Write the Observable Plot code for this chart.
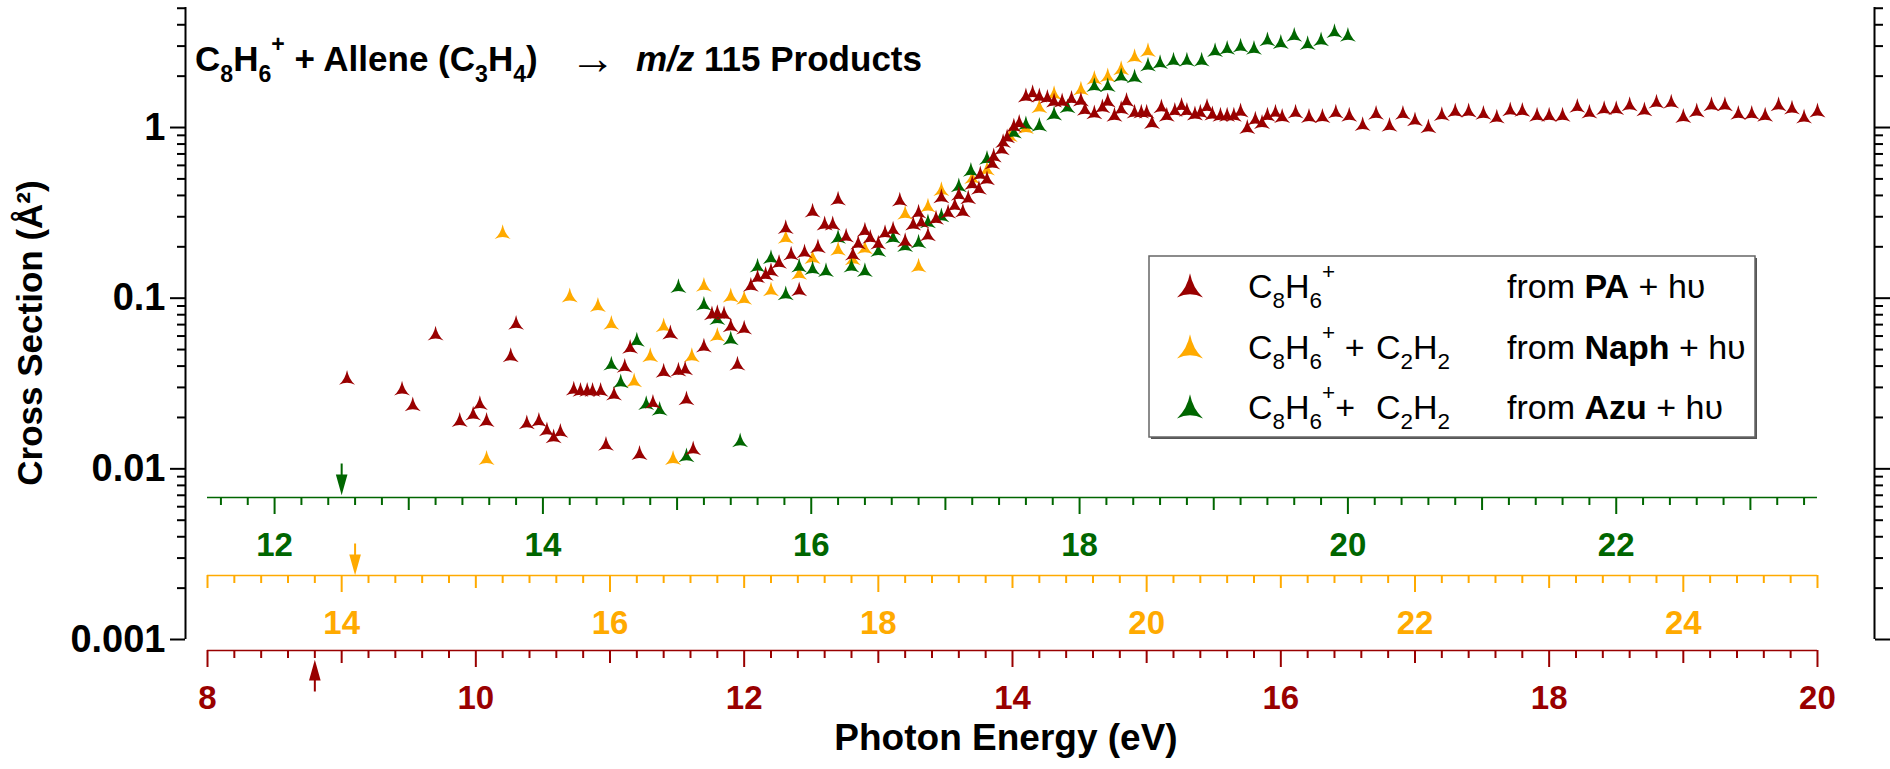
<!DOCTYPE html>
<html><head><meta charset="utf-8">
<script src="https://cdn.jsdelivr.net/npm/d3@7"></script>
<script src="https://cdn.jsdelivr.net/npm/@observablehq/plot@0.6"></script>
<style>
body{margin:0;background:#fff}
#chart{position:relative;width:1890px;height:769px}
text{white-space:pre}
</style>
</head><body><div id="chart"></div>
<script>
// ---------- DATA ----------
// C8H6+ from PA + hv  (photon energy on the red / PA axis, eV ; cross section Å²)
const paE = [9.04,9.45,9.53,9.70,9.88,9.98,10.03,10.08,10.26,10.30,10.38,10.47,10.53,10.58,10.63,10.73,10.78,10.83,10.87,10.93,10.97,11.03,11.11,11.15,11.22,11.32,11.40,11.45,11.51,11.56,11.57,11.62,11.70,11.76,11.80,11.85,11.90,11.95,12.00,12.05,12.10,12.16,12.20,12.26,12.31,12.35,12.41,12.45,12.51,12.55,12.60,12.66,12.70,12.76,12.81,12.85,12.90,12.94,13.00,13.05,13.11,13.16,13.20,13.26,13.30,13.32,13.37,13.43,13.47,13.52,13.57,13.60,13.63,13.67,13.70,13.75,13.76,13.81,13.85,13.86,13.92,13.93,13.96,14.01,14.05,14.10,14.15,14.20,14.26,14.31,14.37,14.44,14.51,14.54,14.61,14.67,14.71,14.76,14.81,14.85,14.91,14.96,15.00,15.04,15.11,15.15,15.21,15.26,15.30,15.36,15.40,15.45,15.49,15.55,15.60,15.65,15.70,15.75,15.81,15.86,15.90,15.96,16.01,16.11,16.21,16.31,16.41,16.51,16.61,16.71,16.81,16.91,17.00,17.10,17.20,17.30,17.40,17.51,17.61,17.71,17.80,17.91,18.00,18.10,18.21,18.30,18.41,18.50,18.60,18.71,18.80,18.91,19.00,19.10,19.21,19.31,19.41,19.51,19.61,19.71,19.81,19.90,20.00];
const paCS = [0.0339,0.0293,0.0237,0.0615,0.0192,0.0209,0.0241,0.0192,0.046,0.0711,0.0186,0.0192,0.0169,0.0154,0.0166,0.0293,0.0288,0.0288,0.0288,0.0288,0.0139,0.0274,0.0398,0.0515,0.0123,0.0245,0.0373,0.0625,0.0379,0.0385,0.0257,0.0131,0.0523,0.0809,0.0822,0.0809,0.0689,0.0411,0.0667,0.119,0.133,0.138,0.145,0.162,0.259,0.181,0.112,0.187,0.324,0.200,0.272,0.272,0.381,0.231,0.181,0.210,0.250,0.227,0.210,0.242,0.254,0.375,0.217,0.272,0.319,0.280,0.235,0.294,0.393,0.319,0.351,0.406,0.324,0.387,0.470,0.440,0.534,0.501,0.618,0.681,0.750,0.826,0.882,1.02,1.07,1.53,1.60,1.53,1.50,1.43,1.43,1.48,1.45,1.28,1.22,1.32,1.43,1.18,1.29,1.44,1.23,1.23,1.23,1.07,1.32,1.18,1.26,1.35,1.26,1.20,1.23,1.33,1.20,1.18,1.18,1.18,1.25,1.00,1.12,1.07,1.18,1.23,1.16,1.23,1.16,1.16,1.23,1.18,1.04,1.21,1.03,1.21,1.11,1.01,1.19,1.25,1.25,1.21,1.15,1.27,1.26,1.18,1.18,1.18,1.33,1.23,1.29,1.29,1.36,1.27,1.41,1.41,1.16,1.25,1.36,1.36,1.21,1.21,1.18,1.36,1.30,1.15,1.25];

// C8H6+ + C2H2 from Naph + hv  (energy on the orange / Naph axis)
const naphE = [15.08,15.20,15.70,15.91,16.01,16.18,16.30,16.40,16.47,16.61,16.70,16.80,16.90,17.00,17.20,17.31,17.41,17.51,17.70,17.81,17.90,18.20,18.30,18.37,18.47,18.70,18.81,18.98,19.10,19.20,19.31,19.51,19.61,19.71,19.81,19.91,20.01];
const naphCS = [0.0115,0.242,0.103,0.0906,0.0711,0.0328,0.046,0.0689,0.0115,0.046,0.119,0.0605,0.103,0.0998,0.112,0.227,0.140,0.173,0.193,0.170,0.197,0.314,0.154,0.346,0.433,0.509,0.570,0.896,1.00,1.32,1.58,1.68,1.94,2.01,2.21,2.60,2.82];

// C8H6+ + C2H2 from Azu + hv  (energy on the green / Azu axis)
const azuE = [14.51,14.58,14.70,14.77,14.87,15.01,15.07,15.20,15.30,15.40,15.47,15.60,15.70,15.81,15.91,16.01,16.11,16.20,16.30,16.40,16.50,16.61,16.70,16.80,16.87,16.97,17.10,17.19,17.31,17.51,17.60,17.70,17.81,17.91,18.11,18.21,18.31,18.41,18.51,18.60,18.70,18.80,18.91,19.01,19.10,19.20,19.30,19.40,19.50,19.60,19.70,19.80,19.90,20.00];
const azuCS = [0.0411,0.0323,0.0567,0.0241,0.0223,0.117,0.0119,0.0921,0.0759,0.0577,0.0146,0.154,0.173,0.106,0.154,0.149,0.145,0.227,0.154,0.145,0.190,0.227,0.203,0.213,0.280,0.304,0.455,0.561,0.659,0.940,1.05,1.03,1.20,1.32,1.76,1.76,2.01,1.98,2.32,2.40,2.48,2.48,2.48,2.82,2.91,3.00,2.91,3.26,3.15,3.47,3.10,3.26,3.65,3.47];

// energy-axis offsets relative to the PA axis, axis spans and arrow markers
const naphOffset = 5.0, azuOffset = 3.5;
const paRange = [8, 20], naphRange = [13, 25], azuRange = [11.5, 23.5];
const paMajor = [8,10,12,14,16,18,20];
const naphMajor = [14,16,18,20,22,24];
const azuMajor = [12,14,16,18,20,22];
const arrowE = {pa: 8.8, naph: 14.1, azu: 12.5};
const yMajor = [0.001, 0.01, 0.1, 1];
const yLabels = ["0.001", "0.01", "0.1", "1"];

// ---------- STYLE ----------
const RED = "#990000", ORANGE = "#ffaa00", GREEN = "#006600";
const W = 1890, H = 769;
const xDomain = [7.836, 20.425], yDomain = [0.001, 5.05];
const yMinor = [];
for (const d of [0.001, 0.01, 0.1, 1]) for (let m = 2; m <= 9; m++) if (m * d <= yDomain[1]) yMinor.push(m * d);

const arrowhead = {
  draw(ctx, size) {
    const r = Math.sqrt(size / Math.PI);
    ctx.moveTo(0, -1.05 * r);
    ctx.quadraticCurveTo(-0.22 * r, 0.1 * r, -r, 0.8 * r);
    ctx.quadraticCurveTo(0, 0.3 * r, r, 0.8 * r);
    ctx.quadraticCurveTo(0.22 * r, 0.1 * r, 0, -1.05 * r);
    ctx.closePath();
  }
};
const arrowDown = {draw(ctx) {ctx.moveTo(0, -14); ctx.lineTo(0, 0); ctx.moveTo(-4.5, -2); ctx.lineTo(0, 14); ctx.lineTo(4.5, -2); ctx.closePath();}};
const arrowUp = {draw(ctx) {ctx.moveTo(0, 14); ctx.lineTo(0, 0); ctx.moveTo(-4.5, 2); ctx.lineTo(0, -14); ctx.lineTo(4.5, 2); ctx.closePath();}};

function energyAxis(color, off, range, major, dy) {
  const all = d3.range(Math.ceil(range[0] * 5 - 1e-9), Math.floor(range[1] * 5 + 1e-9) + 1).map(i => i / 5);
  const isInt = v => Math.abs(v - Math.round(v)) < 1e-6;
  const minor = all.filter(v => !isInt(v));
  const odd = all.filter(v => isInt(v) && Math.round(v) % 2 !== 0);
  const even = all.filter(v => isInt(v) && Math.round(v) % 2 === 0);
  const sh = a => a.map(v => v - off);
  const tick = (vals, size) => Plot.axisX(sh(vals), {anchor: "bottom", tickSize: size, dy, stroke: color, strokeWidth: 2, fill: "none", label: null});
  return [
    Plot.ruleY([yDomain[0]], {x1: () => range[0] - off, x2: () => range[1] - off, dy, stroke: color, strokeWidth: 1.5}),
    tick(minor, 8), tick(odd, 13), tick(even, 17),
    Plot.axisX(sh(major), {anchor: "bottom", tickSize: 0, tickPadding: 35, dy, fill: color, fontSize: 33, fontWeight: "bold",
      tickFormat: d => String(Math.round((d + off) * 10) / 10), label: null})
  ];
}

const chart = Plot.plot({
  width: W, height: H,
  marginLeft: 185, marginRight: 16, marginTop: 7, marginBottom: 130,
  style: {fontFamily: "'Liberation Sans', Arial, sans-serif", background: "white", overflow: "visible"},
  x: {type: "linear", domain: xDomain},
  y: {type: "log", domain: yDomain},
  marks: [
    // y axes (left labelled, right mirrored)
    Plot.ruleX([xDomain[0]], {stroke: "black", strokeWidth: 2}),
    Plot.axisY(yMajor, {anchor: "left", tickSize: 15, strokeWidth: 2, fill: "none", label: null}),
    Plot.axisY(yMinor, {anchor: "left", tickSize: 8, strokeWidth: 2, fill: "none", label: null}),
    Plot.axisY(yMajor, {anchor: "left", tickSize: 0, tickPadding: 20, fontSize: 38, fontWeight: "bold", fill: "black",
      tickFormat: d => yLabels[yMajor.indexOf(d)], label: null}),
    Plot.ruleX([xDomain[1]], {stroke: "black", strokeWidth: 2}),
    Plot.axisY(yMajor, {anchor: "right", tickSize: 15, strokeWidth: 2, fill: "none", label: null}),
    Plot.axisY(yMinor, {anchor: "right", tickSize: 8, strokeWidth: 2, fill: "none", label: null}),
    // three energy axes
    ...energyAxis(GREEN, azuOffset, azuRange, azuMajor, -142),
    ...energyAxis(ORANGE, naphOffset, naphRange, naphMajor, -64),
    ...energyAxis(RED, 0, paRange, paMajor, 11),
    // onset arrows
    Plot.dot([arrowE.azu], {x: d => d - azuOffset, y: () => yDomain[0], symbol: arrowDown, r: 5, dy: -162, fill: GREEN, stroke: GREEN, strokeWidth: 2}),
    Plot.dot([arrowE.naph], {x: d => d - naphOffset, y: () => yDomain[0], symbol: arrowDown, r: 5, dy: -82, fill: ORANGE, stroke: ORANGE, strokeWidth: 2}),
    Plot.dot([arrowE.pa], {x: d => d, y: () => yDomain[0], symbol: arrowUp, r: 5, dy: 38, fill: RED, stroke: RED, strokeWidth: 2}),
    // data
    Plot.dot(naphE, {x: d => d - naphOffset, y: (d, i) => naphCS[i], symbol: arrowhead, r: 8, fill: ORANGE, stroke: "none"}),
    Plot.dot(azuE, {x: d => d - azuOffset, y: (d, i) => azuCS[i], symbol: arrowhead, r: 8, fill: GREEN, stroke: "none"}),
    Plot.dot(paE, {x: d => d, y: (d, i) => paCS[i], symbol: arrowhead, r: 8, fill: RED, stroke: "none"})
  ]
});
document.getElementById("chart").appendChild(chart);

// ---------- TEXT OVERLAYS ----------
const svg = d3.select(chart);
const FONT = "'Liberation Sans', Arial, sans-serif";
function rich(g, x, y, size, parts, weight) {
  const t = g.append("text").attr("x", x).attr("y", y).attr("font-size", size).attr("text-anchor", "start")
    .attr("font-family", FONT).attr("font-weight", weight || "normal").attr("fill", "black");
  let shift = 0;
  for (const [s, k] of parts) {
    const target = k === "sub" ? size * 0.3 : k === "sup" ? -size * 0.55 : 0;
    const ts = t.append("tspan").text(s).attr("dy", target - shift);
    shift = target;
    if (k === "sub" || k === "sup") ts.attr("font-size", size * 0.66);
    if (k === "b") ts.attr("font-weight", "bold");
    if (k === "i") ts.attr("font-style", "italic");
  }
  return t;
}
// title
rich(svg, 195, 71, 35, [["C"], ["8", "sub"], ["H"], ["6", "sub"], ["+", "sup"], [" + Allene (C"], ["3", "sub"], ["H"], ["4", "sub"], [")"]], "bold");
svg.append("text").attr("x", 570).attr("y", 74).attr("text-anchor", "start").attr("font-size", 46).attr("font-family", FONT).text("\u2192");
rich(svg, 636, 71, 35, [["m/z", "i"], [" 115 Products"]], "bold");

// axis titles
svg.append("text").attr("transform", "translate(42,333) rotate(-90)").attr("text-anchor", "middle")
  .attr("font-size", 35).attr("font-weight", "bold").attr("font-family", FONT).text("Cross Section (\u00c5\u00b2)");
svg.append("text").attr("x", 1006).attr("y", 750).attr("text-anchor", "middle")
  .attr("font-size", 37).attr("font-weight", "bold").attr("font-family", FONT).text("Photon Energy (eV)");

// legend
const lg = svg.append("g");
lg.append("rect").attr("x", 1151).attr("y", 258).attr("width", 606).attr("height", 181).attr("fill", "#555");
lg.append("rect").attr("x", 1149).attr("y", 256).attr("width", 606).attr("height", 181).attr("fill", "white").attr("stroke", "#666").attr("stroke-width", 1.5);
const rows = [
  {c: RED, y: 287, left: [["C"], ["8", "sub"], ["H"], ["6", "sub"], ["+", "sup"]], c2: false, src: "PA"},
  {c: ORANGE, y: 348, left: [["C"], ["8", "sub"], ["H"], ["6", "sub"], ["+", "sup"], [" +"]], c2: true, src: "Naph"},
  {c: GREEN, y: 408, left: [["C"], ["8", "sub"], ["H"], ["6", "sub"], ["+", "sup"], ["+"]], c2: true, src: "Azu"}
];
const legendSym = d3.symbol(arrowhead, 13 * 13 * Math.PI);
for (const r of rows) {
  lg.append("path").attr("d", legendSym()).attr("transform", `translate(1190,${r.y})`).attr("fill", r.c);
  rich(lg, 1248, r.y + 11, 34, r.left);
  if (r.c2) rich(lg, 1376, r.y + 11, 34, [["C"], ["2", "sub"], ["H"], ["2", "sub"]]);
  rich(lg, 1507, r.y + 11, 34, [["from "], [r.src, "b"], [" + h\u03c5"]]);
}
</script></body></html>
